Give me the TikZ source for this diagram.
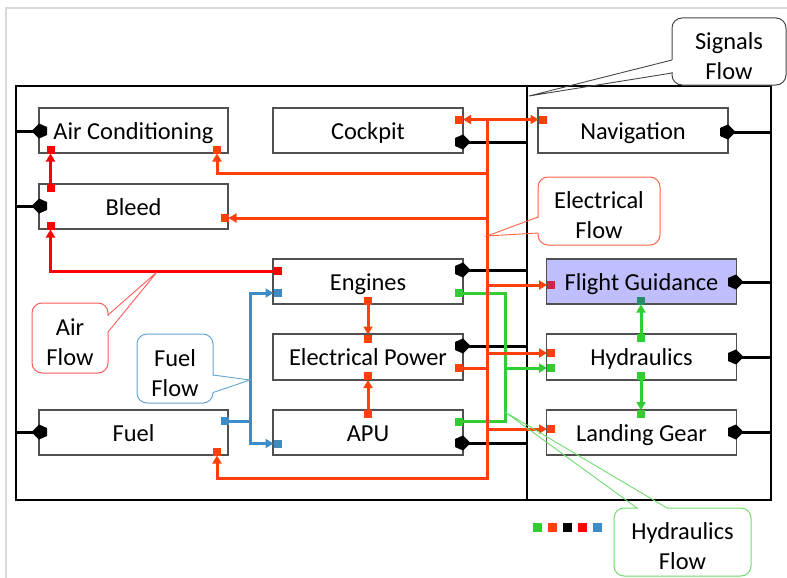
\documentclass[tikz,border=0pt]{standalone}
\usepackage{fontspec}
\setmainfont{Carlito}
\usetikzlibrary{arrows.meta,calc}
\definecolor{airc}{RGB}{255,0,0}
\definecolor{elec}{RGB}{255,64,10}
\definecolor{hydc}{RGB}{51,204,51}
\definecolor{fuelc}{RGB}{60,140,200}
\definecolor{fgfill}{RGB}{191,191,255}
\definecolor{boxln}{RGB}{80,80,80}
\definecolor{fgred}{RGB}{200,40,70}
\definecolor{fggrn}{RGB}{40,140,100}
\definecolor{framec}{RGB}{217,217,217}
\definecolor{calsig}{RGB}{70,70,70}
\definecolor{calel}{RGB}{255,100,70}
\definecolor{calair}{RGB}{255,90,90}
\definecolor{calfu}{RGB}{100,165,210}
\definecolor{calhy}{RGB}{110,220,110}
\newcommand{\firststrut}{\rule{0pt}{26pt}}
\tikzset{
  sigpic/.pic={\fill[black] (-8,-4) -- (0,-7.5) -- (7.5,0) -- (0,7.5) -- (-8,4) -- cycle;},
}
\begin{document}
\begin{tikzpicture}[x=1pt,y=-1pt,
  sysbox/.style={draw=boxln, line width=1.1pt, fill=white, minimum width=190pt, minimum height=45pt, inner sep=0pt, outer sep=0pt, text height=17pt, text depth=0pt, font=\fontsize{24.4}{29}\selectfont},
  outerbox/.style={draw=black, line width=2.8pt, inner sep=0pt, outer sep=0pt, minimum height=414pt},
  sqport/.style={fill=#1, minimum size=8pt, inner sep=0pt, outer sep=0pt},
  fline/.style={draw=#1, line width=3pt},
  arr/.style={-{Triangle[length=8pt,width=9pt]}},
  sigln/.style={draw=black, line width=3pt},
  callbox/.style={draw=#1, line width=1pt, fill=white, rounded corners=10pt, align=center, inner sep=0pt, outer sep=0pt, font=\fontsize{24.4}{30}\selectfont},
  wedge/.style={draw=#1, line width=0.9pt},
  erase/.style={draw=white, line width=2.2pt}
]
\useasboundingbox (0,0) rectangle (787,578);
\draw[framec, line width=1.5pt] (6,578) -- (6,8) -- (787,8);

% outer system boxes
\node[outerbox, minimum width=511pt] (lsys) at (271.5,293) {};
\node[outerbox, minimum width=244pt] (rsys) at (649,293) {};

% signal port coordinates
\coordinate (acS) at (39,131);
\coordinate (blS) at (39,206);
\coordinate (fuS) at (39,432);
\coordinate (ckS) at (463,142);
\coordinate (enS) at (463,270);
\coordinate (epS) at (463,346);
\coordinate (apS) at (463,443);
\coordinate (nvS) at (728,132);
\coordinate (fgS) at (736,282);
\coordinate (hyS) at (736,357);
\coordinate (lgS) at (736,432);

% signal lines
\draw[sigln] (acS) -- (acS -| lsys.west);
\draw[sigln] (blS) -- (blS -| lsys.west);
\draw[sigln] (fuS) -- (fuS -| lsys.west);
\draw[sigln] (ckS) -- (ckS -| lsys.east);
\draw[sigln] (enS) -- (enS -| lsys.east);
\draw[sigln] (epS) -- (epS -| lsys.east);
\draw[sigln] (apS) -- (apS -| lsys.east);
\draw[sigln] (nvS) -- (nvS -| rsys.east);
\draw[sigln] (fgS) -- (fgS -| rsys.east);
\draw[sigln] (hyS) -- (hyS -| rsys.east);
\draw[sigln] (lgS) -- (lgS -| rsys.east);

% subsystem boxes
\node[sysbox, minimum width=189pt] (ac) at (133.5,130.5) {Air Conditioning};
\node[sysbox, minimum width=189pt] (bl) at (133.5,206.5) {Bleed};
\node[sysbox, minimum width=189pt] (fu) at (133.5,432.5) {Fuel};
\node[sysbox] (ck) at (368,130.5) {Cockpit};
\node[sysbox] (en) at (368,281.5) {Engines};
\node[sysbox, minimum height=46pt] (ep) at (368,357) {Electrical Power};
\node[sysbox] (ap) at (368,432.5) {APU};
\node[sysbox] (nv) at (633,130.5) {Navigation};
\node[sysbox, fill=fgfill] (fg) at (641.5,281.5) {Flight Guidance};
\node[sysbox, minimum height=46pt] (hy) at (641.5,357) {Hydraulics};
\node[sysbox] (lg) at (641.5,432.5) {Landing Gear};

% signal port shapes
\pic[rotate=180] at (acS) {sigpic};
\pic[rotate=180] at (blS) {sigpic};
\pic[rotate=180] at (fuS) {sigpic};
\pic at (ckS) {sigpic};
\pic at (enS) {sigpic};
\pic at (epS) {sigpic};
\pic at (apS) {sigpic};
\pic at (nvS) {sigpic};
\pic at (fgS) {sigpic};
\pic at (hyS) {sigpic};
\pic at (lgS) {sigpic};

% ports
\node[sqport=airc] (acA) at (50.5,149.5) {};
\node[sqport=airc] (blT) at (50.5,188) {};
\node[sqport=airc] (blB) at (50.5,225.5) {};
\node[sqport=airc] (enA) at (277.5,271) {};
\node[sqport=elec] (acE) at (217,149.5) {};
\node[sqport=elec] (blE) at (224.5,218) {};
\node[sqport=elec] (fuE) at (217,451.5) {};
\node[sqport=elec] (ckE) at (459,119.5) {};
\node[sqport=elec] (nvE) at (542.5,119.5) {};
\node[sqport=fgred] (fgE) at (551,285) {};
\node[sqport=elec] (epE) at (459,368) {};
\node[sqport=elec] (hyE) at (551,353) {};
\node[sqport=elec] (lgE) at (551,429) {};
\node[sqport=elec] (enB) at (368,300.5) {};
\node[sqport=elec] (epT) at (368,338.5) {};
\node[sqport=elec] (epB) at (368,376) {};
\node[sqport=elec] (apT) at (368,414) {};
\node[sqport=fuelc] (fuF) at (224.5,421) {};
\node[sqport=fuelc] (enF) at (277.5,293) {};
\node[sqport=fuelc] (apF) at (277.5,443.5) {};
\node[sqport=hydc] (enH) at (459,293) {};
\node[sqport=hydc] (apH) at (459,421.5) {};
\node[sqport=hydc] (hyH) at (551,368) {};
\node[sqport=hydc] (hyT) at (641,338) {};
\node[sqport=fggrn] (fgH) at (641,300.5) {};
\node[sqport=hydc] (hyB) at (641,376) {};
\node[sqport=hydc] (lgT) at (641,414) {};

% junction coordinates
\coordinate (busT) at (487,119.5);
\coordinate (busB) at (487,478);
\coordinate (jAC) at (487,173);
\coordinate (fJ) at (250,421);
\coordinate (gT) at (505,293);
\coordinate (gB) at (505,421.5);

% air flow
\draw[fline=airc, arr] (blT) -- (acA);
\draw[fline=airc, arr] (enA) -| (blB);

% fuel flow
\draw[fline=fuelc] (fuF) -- (fJ);
\draw[fline=fuelc, arr] (fJ) |- (enF);
\draw[fline=fuelc, arr] (fJ) |- (apF);

% hydraulics flow
\draw[fline=hydc] (enH) -| (gB) -- (apH);
\draw[fline=hydc, arr] (gT |- hyH) -- (hyH);
\draw[fline=hydc, arr] (hyT) -- (fgH);
\draw[fline=hydc, arr] (hyB) -- (lgT);

% electrical flow
\draw[fline=elec, {Triangle[length=8pt,width=9pt]}-{Triangle[length=8pt,width=9pt]}] (ckE) -- (nvE);
\draw[fline=elec, arr] (busT) -- (busB) -| (fuE);
\draw[fline=elec, arr] (jAC) -| (acE);
\draw[fline=elec, arr] (busT |- blE) -- (blE);
\draw[fline=elec, arr] (busT |- fgE) -- (fgE);
\draw[fline=elec] (epE) -- (busT |- epE);
\draw[fline=elec, arr] (busT |- hyE) -- (hyE);
\draw[fline=elec, arr] (busT |- lgE) -- (lgE);
\draw[fline=elec, arr] (enB) -- (epT);
\draw[fline=elec, arr] (apT) -- (epB);

% callouts
\node[callbox=calsig, minimum width=114pt, minimum height=67pt] (sig) at (729,51.5) {\firststrut Signals\\Flow};
\coordinate (sigTip) at (529,96);
\draw[erase] ($(sig.west)+(0,9)$) -- ($(sig.west)+(0,21)$);
\draw[wedge=calsig] ($(sig.west)+(0,8.5)$) -- (sigTip) -- ($(sig.west)+(0,21.5)$);

\node[callbox=calel, minimum width=122pt, minimum height=68pt] (elc) at (599,211) {\firststrut Electrical\\Flow};
\coordinate (elTip) at (487,236);
\draw[erase] ($(elc.west)+(0,6.5)$) -- ($(elc.west)+(0,21.5)$);
\draw[wedge=calel] ($(elc.west)+(0,6)$) -- (elTip) -- ($(elc.west)+(0,22)$);

\node[callbox=calair, minimum width=76pt, minimum height=70pt] (aic) at (70,338) {\firststrut Air\\Flow};
\coordinate (aiTip) at (157,272);
\draw[erase] ($(aic.east)+(0,-22.5)$) -- ($(aic.east)+(0,-6.5)$);
\draw[wedge=calair] ($(aic.east)+(0,-23)$) -- (aiTip) -- ($(aic.east)+(0,-6)$);

\node[callbox=calfu, minimum width=76pt, minimum height=69pt] (fuc) at (175,368.5) {\firststrut Fuel\\Flow};
\coordinate (fuTip) at (250,380);
\draw[erase] ($(fuc.east)+(0,7)$) -- ($(fuc.east)+(0,23.5)$);
\draw[wedge=calfu] ($(fuc.east)+(0,6.5)$) -- (fuTip) -- ($(fuc.east)+(0,24)$);

\node[callbox=calhy, minimum width=137pt, minimum height=68pt] (hyc) at (682.5,542) {\firststrut Hydraulics\\Flow};
\coordinate (hyTip) at (505,412);
\draw[erase] ($(hyc.north)+(-45,0)$) -- ($(hyc.north)+(-16,0)$);
\draw[wedge=calhy] ($(hyc.north)+(-45.5,0)$) -- (hyTip) -- ($(hyc.north)+(-15.5,0)$);

% legend
\node[sqport=hydc, minimum size=9pt] (lgd1) at (537.5,527) {};
\node[sqport=elec, minimum size=9pt] (lgd2) at (552.5,527) {};
\node[sqport=black, minimum size=9pt] (lgd3) at (567.5,527) {};
\node[sqport=airc, minimum size=9pt] (lgd4) at (582.5,527) {};
\node[sqport=fuelc, minimum size=9pt] (lgd5) at (597.5,527) {};
\end{tikzpicture}
\end{document}
